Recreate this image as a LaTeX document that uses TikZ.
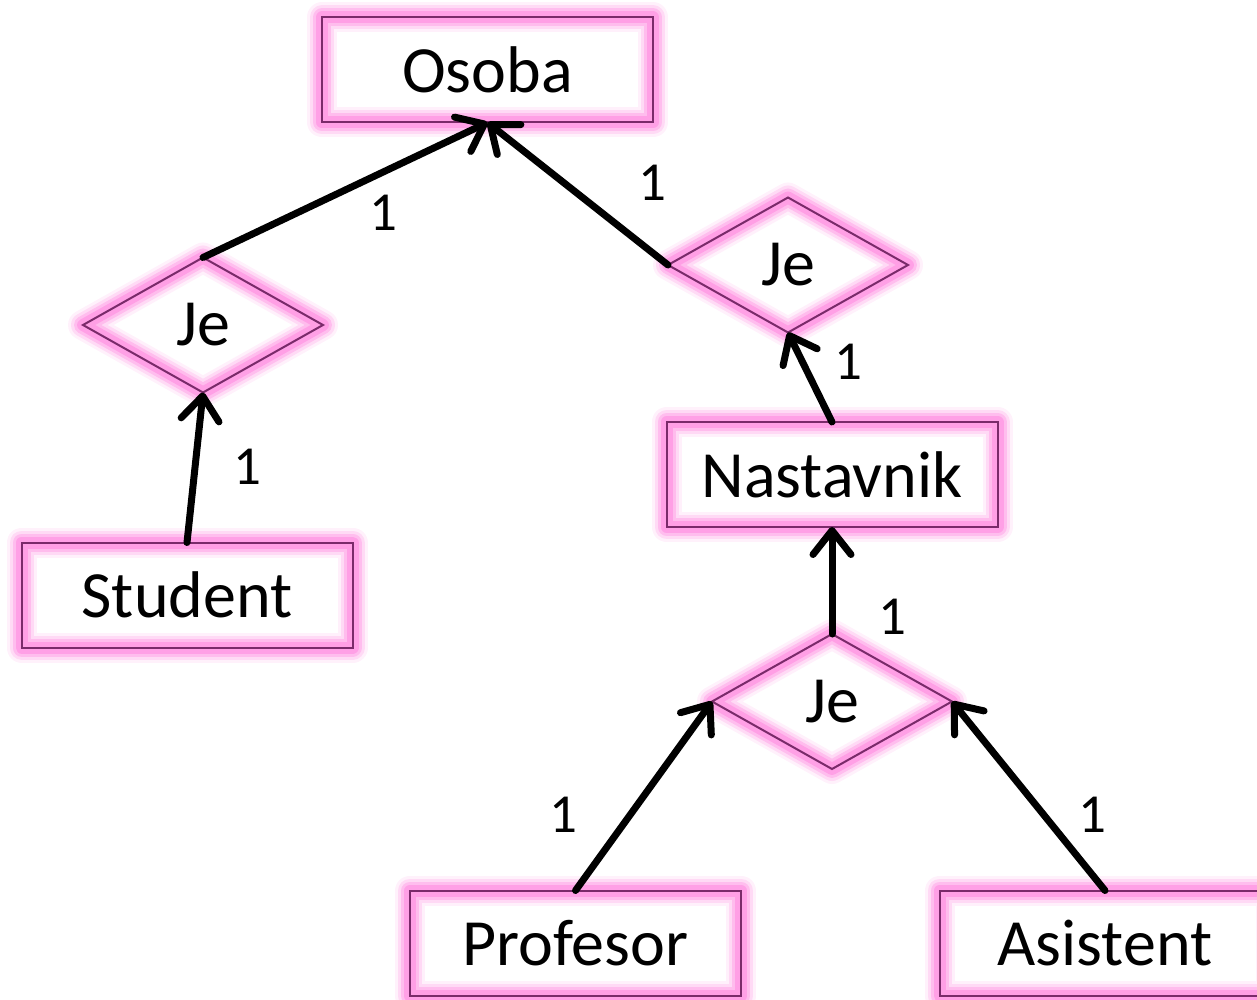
\documentclass[tikz,border=0pt]{standalone}
\usepackage{fontspec}
\setmainfont{Carlito}
\usetikzlibrary{shapes.geometric,arrows.meta}
\definecolor{glowc}{HTML}{FF88E0}
\definecolor{edgec}{HTML}{7A2A6A}
\tikzset{
  glowing/.style={
    preaction={fill=white},
    preaction={draw=glowc, line width=30pt, opacity=0.12, line join=round},
    preaction={draw=glowc, line width=24pt, opacity=0.22, line join=round},
    preaction={draw=glowc, line width=18pt, opacity=0.35, line join=round},
    preaction={draw=glowc, line width=12pt, opacity=0.55, line join=round},
    draw=edgec, line width=2pt, inner sep=0pt, outer sep=0pt,
    font=\fontsize{66}{72}\selectfont},
  entity/.style={glowing, rectangle, minimum width=331pt, minimum height=105pt},
  relation/.style={glowing, diamond, minimum width=240pt, minimum height=135pt, aspect=1.78},
  isa/.style={line width=7pt, -{Straight Barb[length=24pt,width=38pt,round]}, line cap=round},
  card/.style={font=\fontsize{55}{60}\selectfont, inner sep=0pt}
}
\begin{document}
\begin{tikzpicture}[x=1pt,y=-1pt]
\useasboundingbox (0,0) rectangle (1257,1000);
\begin{scope}
\clip (0,0) rectangle (1257,1000);
\node[entity] (osoba) at (487.5,70) {Osoba};
\node[entity] (student) at (187,595) {Student};
\node[entity] (nast) at (832,474.5) {Nastavnik};
\node[entity] (prof) at (575.5,943) {Profesor};
\node[entity] (asis) at (1105,943) {Asistent};
\node[relation] (je1) at (203,325) {Je};
\node[relation] (je2) at (788,265) {Je};
\node[relation] (je3) at (832,701.5) {Je};
\end{scope}
\draw[isa] (je1.north) -- (osoba.south);
\draw[isa] (je2.west) -- (osoba.south);
\draw[isa] (nast.north) -- (je2.south);
\draw[isa] (student.north) -- (je1.south);
\draw[isa] (je3.north) -- (nast.south);
\draw[isa] (prof.north) -- (je3.west);
\draw[isa] (asis.north) -- (je3.east);
\node[card] (l1) at (383,213) {1};
\node[card] (l2) at (652,183) {1};
\node[card] (l3) at (848,362) {1};
\node[card] (l4) at (247,467) {1};
\node[card] (l5) at (892,617) {1};
\node[card] (l6) at (563,815) {1};
\node[card] (l7) at (1092,815) {1};
\end{tikzpicture}
\end{document}
